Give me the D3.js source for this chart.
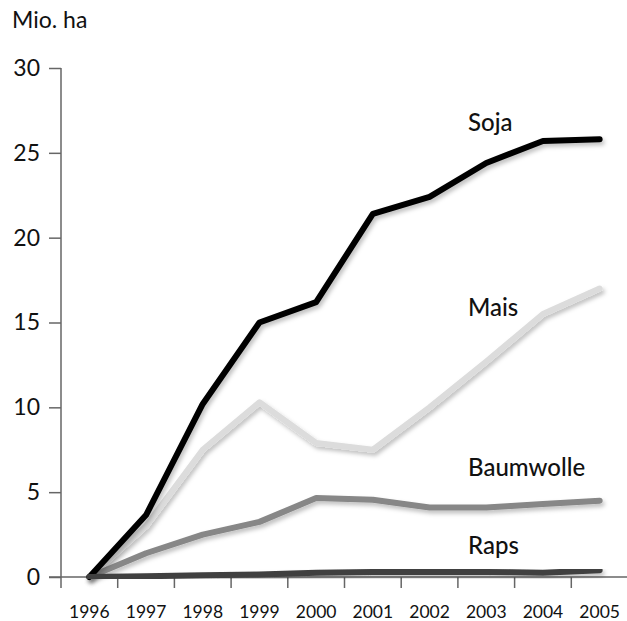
<!DOCTYPE html>
<html>
<head>
<meta charset="utf-8">
<script src="https://cdn.jsdelivr.net/npm/d3@7"></script>
<style>
  body { margin: 0; background: #fff; }
  svg { display: block; }
  text { font-family: Lato, "Open Sans", sans-serif; fill: #111; }
</style>
</head>
<body>
<div id="chart"></div>
<script>
const width = 627;
const height = 621;

// data
const years = ['1996', '1997', '1998', '1999', '2000', '2001', '2002', '2003', '2004', '2005'];
const soja = [0, 3.65, 10.2, 15.0, 16.2, 21.4, 22.4, 24.4, 25.7, 25.8];
const mais = [0, 3.0, 7.5, 10.3, 7.9, 7.5, 10.0, 12.7, 15.5, 17.0];
const baumwolle = [0, 1.4, 2.5, 3.25, 4.65, 4.55, 4.1, 4.1, 4.3, 4.5];
const raps = [0, 0.05, 0.1, 0.15, 0.25, 0.3, 0.3, 0.3, 0.25, 0.4];
const yTicks = [0, 5, 10, 15, 20, 25, 30];

const series = [
    { name: 'Mais', values: mais, color: '#dcdcdc', labelY: 316 },
    { name: 'Baumwolle', values: baumwolle, color: '#878787', labelY: 476 },
    { name: 'Soja', values: soja, color: '#000', labelY: 131 },
    { name: 'Raps', values: raps, color: '#3f3f3f', labelY: 554 },
];

const x = d3.scaleBand().domain(years).range([61, 628]);
const y = d3.scaleLinear().domain([0, 30]).range([577, 68]);

const svg = d3
    .select('#chart')
    .append('svg')
    .attr('width', width)
    .attr('height', height);

const defs = svg.append('defs');
defs.append('filter')
    .attr('id', 'shadow')
    .attr('x', '-10%').attr('y', '-10%')
    .attr('width', '130%').attr('height', '130%')
    .append('feDropShadow')
    .attr('dx', 2).attr('dy', 3)
    .attr('stdDeviation', 2)
    .attr('flood-color', '#000')
    .attr('flood-opacity', 0.25);

// unit label
svg.append('text')
    .attr('x', 12)
    .attr('y', 28)
    .style('font-size', '23px')
    .text('Mio. ha');

// y axis
const yAxis = svg.append('g')
    .attr('transform', 'translate(61,0)')
    .call(d3.axisLeft(y).tickValues(yTicks).tickSize(12).tickSizeOuter(0).tickPadding(9));
yAxis.select('.domain').remove();
yAxis.selectAll('.tick line').attr('stroke', '#666').attr('stroke-width', 1.5);
yAxis.selectAll('.tick text')
    .style('font-size', '23px')
    .style('font-family', 'Lato, sans-serif')
    .attr('fill', '#111');

svg.append('line')
    .attr('x1', 61).attr('x2', 61)
    .attr('y1', y(30)).attr('y2', 588)
    .attr('stroke', '#666').attr('stroke-width', 1.5);

// x axis
svg.append('line')
    .attr('x1', 49).attr('x2', width)
    .attr('y1', y(0)).attr('y2', y(0))
    .attr('stroke', '#666').attr('stroke-width', 1.5);

svg.append('g')
    .selectAll('line')
    .data(years.slice(0, -1))
    .join('line')
    .attr('x1', d => x(d) + x.bandwidth())
    .attr('x2', d => x(d) + x.bandwidth())
    .attr('y1', y(0))
    .attr('y2', 588)
    .attr('stroke', '#666')
    .attr('stroke-width', 1.5);

svg.append('g')
    .selectAll('text')
    .data(years)
    .join('text')
    .attr('x', d => x(d) + x.bandwidth() / 2)
    .attr('y', 618)
    .attr('text-anchor', 'middle')
    .style('font-size', '17.5px')
    .text(d => d);

// lines
const line = d3.line()
    .x((d, i) => x(years[i]) + x.bandwidth() / 2)
    .y(d => y(d));

svg.append('g')
    .attr('fill', 'none')
    .selectAll('path')
    .data(series)
    .join('path')
    .attr('d', d => line(d.values))
    .attr('stroke', d => d.color)
    .attr('stroke-width', 6)
    .attr('stroke-linejoin', 'round')
    .attr('stroke-linecap', 'round')
    .attr('filter', 'url(#shadow)');

// series labels
svg.append('g')
    .selectAll('text')
    .data(series)
    .join('text')
    .attr('x', 468)
    .attr('y', d => d.labelY)
    .style('font-size', '24px')
    .style('font-weight', 500)
    .text(d => d.name);
</script>
</body>
</html>
